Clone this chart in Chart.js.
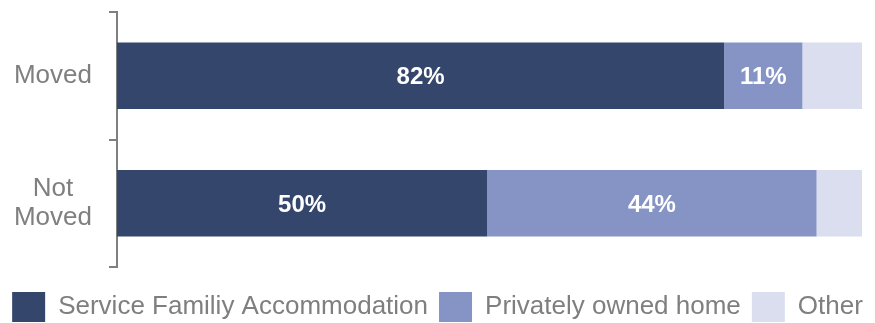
<!DOCTYPE html>
<html>
<head>
<meta charset="utf-8">
<script src="https://cdn.jsdelivr.net/npm/chart.js@4/dist/chart.umd.min.js"></script>
<style>
  html, body { margin: 0; padding: 0; background: #fff; }
  #wrap { width: 875px; height: 323px; }
</style>
</head>
<body>
<div id="wrap"><canvas id="chart" width="875" height="323"></canvas></div>
<script>
// categories and series (percent of group)
const categories = [['Moved'], ['Not', 'Moved']];
const seriesNames = ['Service Familiy Accommodation', 'Privately owned home', 'Other'];
const sfaValues = [81.5, 49.7];
const privateValues = [10.5, 44.2];
const otherValues = [8.0, 6.1];

const colors = ['#34466c', '#8593c5', '#dadeee'];
const grey = '#7f7f7f';
const fontFamily = '"Liberation Sans", Arial, sans-serif';

// white percentage labels inside the first two segments
const barLabels = {
  id: 'barLabels',
  afterDatasetsDraw (chart) {
    const ctx = chart.ctx;
    ctx.save();
    ctx.fillStyle = '#ffffff';
    ctx.font = 'bold 24px ' + fontFamily;
    ctx.textAlign = 'center';
    ctx.textBaseline = 'middle';
    [0, 1].forEach(di => {
      const meta = chart.getDatasetMeta(di);
      meta.data.forEach((bar, i) => {
        const v = chart.data.datasets[di].data[i];
        const cx = (bar.x + bar.base) / 2;
        ctx.fillText(Math.round(v) + '%', cx, bar.y + 2);
      });
    });
    ctx.restore();
  }
};

new Chart(document.getElementById('chart'), {
  type: 'bar',
  data: {
    labels: categories,
    datasets: [
      { label: seriesNames[0], data: sfaValues, backgroundColor: colors[0] },
      { label: seriesNames[1], data: privateValues, backgroundColor: colors[1] },
      { label: seriesNames[2], data: otherValues, backgroundColor: colors[2] }
    ]
  },
  options: {
    indexAxis: 'y',
    responsive: false,
    animation: false,
    // negative bottom lets the legend sit near the lower edge
    layout: { padding: { left: 0, right: 0, top: 12, bottom: -9 } },
    datasets: { bar: { barPercentage: 0.52, categoryPercentage: 1 } },
    scales: {
      x: {
        stacked: true,
        min: 0,
        max: 100,
        position: 'bottom',
        grid: { display: false },
        border: { display: false },
        ticks: { display: false },
        // gap between plot and legend
        afterFit: s => { s.height = 14; }
      },
      y: {
        stacked: true,
        offset: true,
        grid: {
          offset: true,
          drawOnChartArea: false,
          tickLength: 8,
          color: grey,
          lineWidth: 2
        },
        border: { display: true, color: grey, width: 2 },
        ticks: {
          color: grey,
          padding: 17,
          crossAlign: 'center',
          font: { family: fontFamily, size: 26, lineHeight: 1.1 }
        },
        afterFit: s => {
          s.width = 117;
          s.paddingTop = 0;
          s.paddingBottom = 0;
        }
      },
      right: {
        type: 'linear',
        position: 'right',
        display: true,
        grid: { display: false },
        border: { display: false },
        ticks: { display: false },
        afterFit: s => { s.width = 13; }
      }
    },
    plugins: {
      tooltip: { enabled: false },
      legend: {
        position: 'bottom',
        labels: {
          color: grey,
          boxWidth: 33,
          boxHeight: 30,
          padding: 11,
          font: { family: fontFamily, size: 26, lineHeight: 1.1 }
        }
      }
    }
  },
  plugins: [barLabels]
});
</script>
</body>
</html>
